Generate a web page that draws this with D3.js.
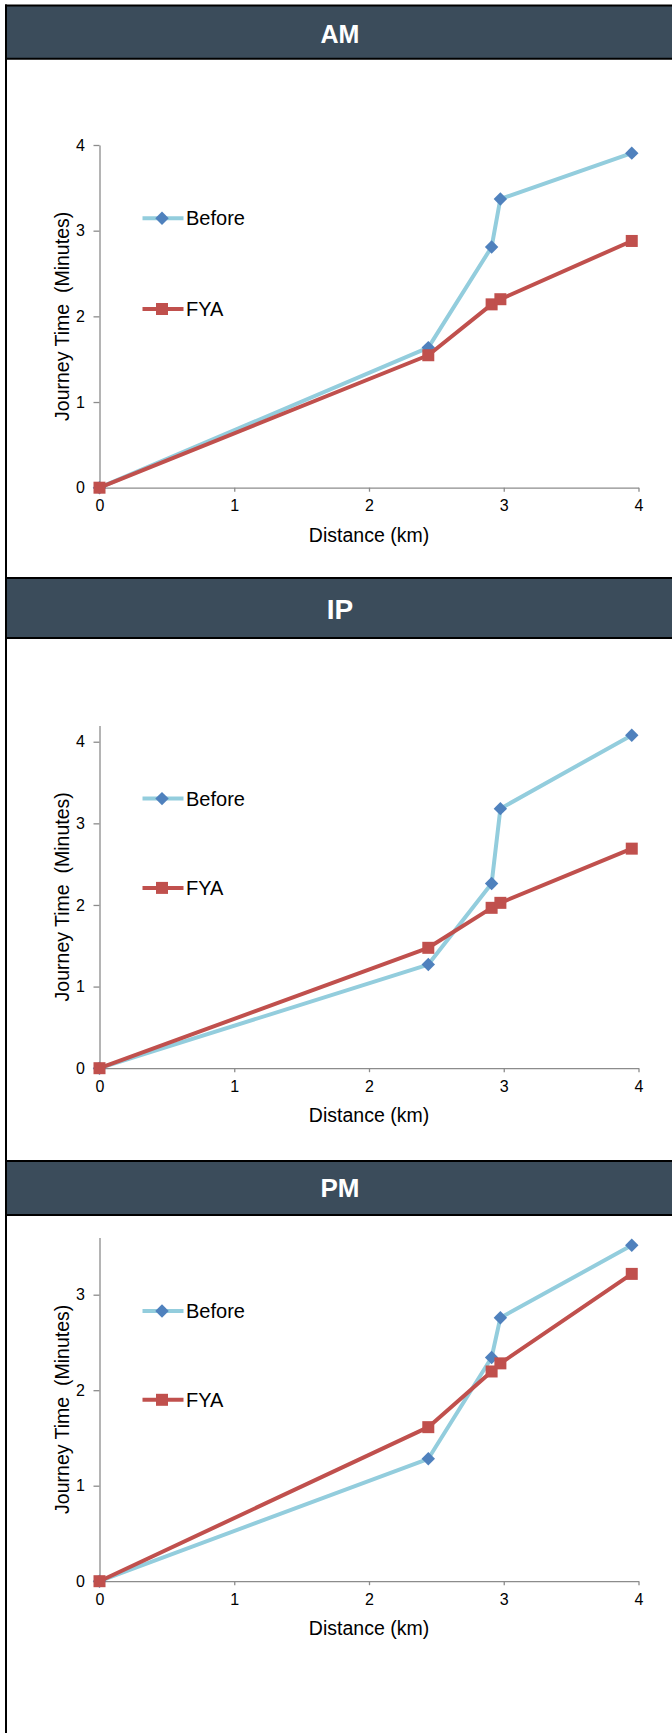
<!DOCTYPE html>
<html>
<head>
<meta charset="utf-8">
<script src="https://cdn.jsdelivr.net/npm/d3@7"></script>
<style>
  html, body { margin: 0; padding: 0; background: #fff; }
  svg { display: block; font-family: "Liberation Sans", Arial, sans-serif; }
</style>
</head>
<body>
<script>
// ---- Data ----
const distances = [0, 2.44, 2.91, 2.975, 3.95];
const seriesNames = ["Before", "FYA"];
const panelTitles = ["AM", "IP", "PM"];
const amBefore = [0, 1.635, 2.81, 3.37, 3.905];
const amFYA    = [0, 1.546, 2.14, 2.20, 2.88];
const ipBefore = [0, 1.27, 2.262, 3.18, 4.08];
const ipFYA    = [0, 1.475, 1.965, 2.026, 2.69];
const pmBefore = [0, 1.282, 2.343, 2.759, 3.517];
const pmFYA    = [0, 1.613, 2.196, 2.281, 3.218];
const xTicks   = [0, 1, 2, 3, 4];
const amYTicks = [0, 1, 2, 3, 4];
const ipYTicks = [0, 1, 2, 3, 4];
const pmYTicks = [0, 1, 2, 3];
const yMaxes   = [4, 4.2, 3.6];
const xTitle = "Distance (km)";
const yTitle = "Journey Time  (Minutes)";

// ---- Layout ----
const W = 672, H = 1733;
const layout = [
  { hTop: 5.5,  hBot: 58.7, pTop: 145,    pBot: 487.7,  legY: [218.3, 309],   tSize: 25, tBase: 42.7 },
  { hTop: 578,  hBot: 638,  pTop: 725.4,  pBot: 1068.2, legY: [798.6, 887.9], tSize: 28, tBase: 618.9 },
  { hTop: 1161, hBot: 1215, pTop: 1237.4, pBot: 1581.2, legY: [1311, 1399.8], tSize: 26, tBase: 1196.5 }
];
const panelData = [
  { before: amBefore, fya: amFYA, yTicks: amYTicks },
  { before: ipBefore, fya: ipFYA, yTicks: ipYTicks },
  { before: pmBefore, fya: pmFYA, yTicks: pmYTicks }
];
const xLeft = 99.5, xRight = 638.5;
const headerFill = "#3b4c5b";
const beforeLine = "#93cddd", beforeMark = "#4f81bd";
const fyaColor = "#c0504d";
const axisColor = "#8c8c8c";

const svg = d3.select("body").append("svg").attr("width", W).attr("height", H);
svg.append("rect").attr("width", W).attr("height", H).attr("fill", "#fff");

const x = d3.scaleLinear().domain([0, 4]).range([xLeft, xRight]);
const diamond = d3.symbol().type(d3.symbolDiamond2 || d3.symbolDiamond).size(115);

panelTitles.forEach((title, i) => {
  const L = layout[i], D = panelData[i];
  const g = svg.append("g");

  // header
  g.append("rect").attr("x", 6).attr("y", L.hTop).attr("width", W - 6).attr("height", L.hBot - L.hTop).attr("fill", headerFill);
  g.append("line").attr("x1", 5).attr("x2", W).attr("y1", L.hTop).attr("y2", L.hTop).attr("stroke", "#000").attr("stroke-width", 2);
  g.append("line").attr("x1", 5).attr("x2", W).attr("y1", L.hBot).attr("y2", L.hBot).attr("stroke", "#000").attr("stroke-width", 2);
  g.append("text").attr("x", 340).attr("y", L.tBase).attr("text-anchor", "middle")
    .attr("fill", "#fff").attr("font-weight", "bold").attr("font-size", L.tSize).text(title);

  const y = d3.scaleLinear().domain([0, yMaxes[i]]).range([L.pBot, L.pTop]);

  // axes
  const xa = g.append("g").attr("transform", `translate(0,${L.pBot})`)
    .call(d3.axisBottom(x).tickValues(xTicks).tickSize(4).tickSizeOuter(0).tickPadding(8.3).tickFormat(d3.format("d")));
  const ya = g.append("g").attr("transform", `translate(${xLeft},0)`)
    .call(d3.axisLeft(y).tickValues(D.yTicks).tickSize(6).tickSizeOuter(0).tickPadding(8.5).tickFormat(d3.format("d")));
  [xa, ya].forEach(a => {
    a.selectAll("path, line").attr("stroke", axisColor).attr("stroke-width", 1.3);
    a.selectAll("text").attr("font-size", 16).attr("fill", "#000").attr("font-family", "'Liberation Sans', Arial, sans-serif");
  });

  // axis titles
  g.append("text").attr("x", (xLeft + xRight) / 2).attr("y", L.pBot + 54).attr("text-anchor", "middle")
    .attr("font-size", 19.5).attr("fill", "#000").text(xTitle);
  g.append("text").attr("transform", `translate(69,${(L.pTop + L.pBot) / 2}) rotate(-90)`)
    .attr("text-anchor", "middle").attr("font-size", 19.5).attr("fill", "#000")
    .style("white-space", "pre").attr("xml:space", "preserve").text(yTitle);

  const line = d3.line().x((d, k) => x(distances[k])).y(d => y(d));

  // Before series
  g.append("path").datum(D.before).attr("d", line).attr("fill", "none")
    .attr("stroke", beforeLine).attr("stroke-width", 4).attr("stroke-linejoin", "round");
  g.selectAll(".mb").data(D.before).enter().append("path")
    .attr("transform", (d, k) => `translate(${x(distances[k])},${y(d)})`)
    .attr("d", diamond()).attr("fill", beforeMark);

  // FYA series
  g.append("path").datum(D.fya).attr("d", line).attr("fill", "none")
    .attr("stroke", fyaColor).attr("stroke-width", 4).attr("stroke-linejoin", "round");
  g.selectAll(".mf").data(D.fya).enter().append("rect")
    .attr("x", (d, k) => x(distances[k]) - 6).attr("y", d => y(d) - 6)
    .attr("width", 12).attr("height", 12).attr("fill", fyaColor);

  // legend
  seriesNames.forEach((name, s) => {
    const ly = L.legY[s];
    g.append("line").attr("x1", 142.5).attr("x2", 183.5).attr("y1", ly).attr("y2", ly)
      .attr("stroke", s === 0 ? beforeLine : fyaColor).attr("stroke-width", 4);
    if (s === 0) {
      g.append("path").attr("transform", `translate(162,${ly})`).attr("d", diamond()).attr("fill", beforeMark);
    } else {
      g.append("rect").attr("x", 162 - 6).attr("y", ly - 6).attr("width", 12).attr("height", 12).attr("fill", fyaColor);
    }
    g.append("text").attr("x", 186).attr("y", ly + 7).attr("font-size", 20).attr("fill", "#000").text(name);
  });
});

// left frame border
svg.append("line").attr("x1", 6).attr("x2", 6).attr("y1", 4.5).attr("y2", H).attr("stroke", "#000").attr("stroke-width", 2);
</script>
</body>
</html>
